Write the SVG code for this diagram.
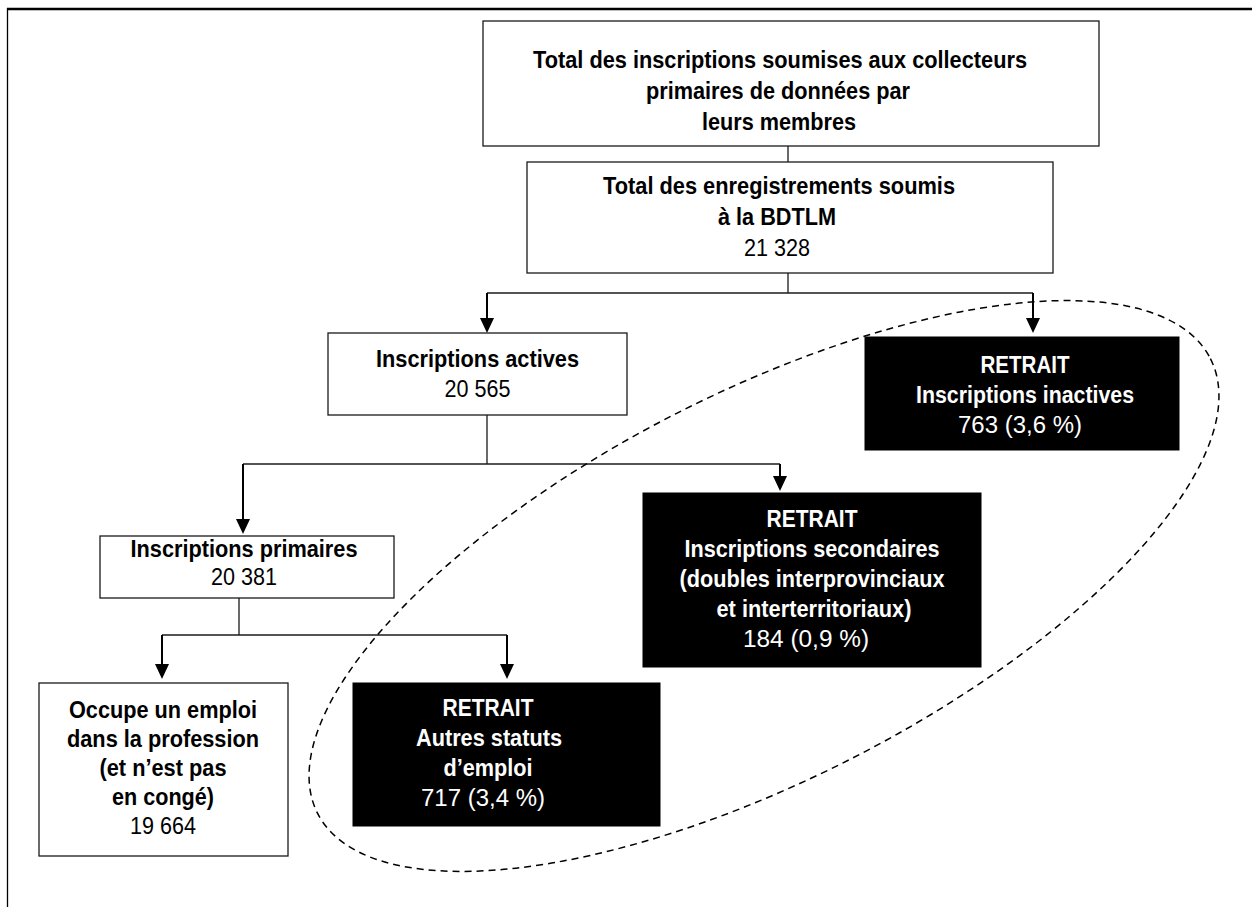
<svg xmlns="http://www.w3.org/2000/svg" width="1252" height="907" viewBox="0 0 1252 907">
<defs>
<style>
.box{fill:#fff;stroke:#1a1a1a;stroke-width:1.3}
.ret{fill:#000;stroke:#000;stroke-width:1}
text{font-family:"Liberation Sans",Arial,sans-serif;font-size:23.5px;text-anchor:middle;fill:#000}
.b{font-weight:bold}
.w{fill:#fff}
.ln{fill:none;stroke:#1a1a1a;stroke-width:1.3}
.sh{fill:none;stroke:#000;stroke-width:2}
.hd{fill:#000}
</style>
</defs>
<rect width="1252" height="907" fill="#fff"/>
<g id="frame">
<line x1="7" y1="9" x2="1252" y2="9" stroke="#000" stroke-width="2.5"/>
<line x1="7.5" y1="8" x2="7.5" y2="907" stroke="#000" stroke-width="1.3"/>
</g>
<g id="connectors">
<line class="ln" x1="788" y1="146" x2="788" y2="162"/>
<line class="ln" x1="788" y1="273" x2="788" y2="293"/>
<line class="ln" x1="487" y1="293" x2="1033" y2="293"/>
<line class="sh" x1="487" y1="293" x2="487" y2="320"/>
<polygon class="hd" points="480,318 494,318 487,333"/>
<line class="sh" x1="1033" y1="293" x2="1033" y2="320"/>
<polygon class="hd" points="1026,318 1040,318 1033,333"/>
<line class="ln" x1="487" y1="415" x2="487" y2="464"/>
<line class="ln" x1="243" y1="464" x2="780" y2="464"/>
<line class="sh" x1="243" y1="464" x2="243" y2="521"/>
<polygon class="hd" points="236,519 250,519 243,534"/>
<line class="sh" x1="780" y1="464" x2="780" y2="478"/>
<polygon class="hd" points="773,476 787,476 780,491"/>
<line class="ln" x1="239" y1="598" x2="239" y2="635"/>
<line class="ln" x1="162" y1="635" x2="507" y2="635"/>
<line class="sh" x1="162" y1="635" x2="162" y2="666"/>
<polygon class="hd" points="155,664 169,664 162,679"/>
<line class="sh" x1="507" y1="635" x2="507" y2="666"/>
<polygon class="hd" points="500,664 514,664 507,679"/>
</g>
<g id="n1">
<rect class="box" x="483" y="21" width="616" height="125"/>
<text class="b" x="780" y="68" textLength="494" lengthAdjust="spacingAndGlyphs">Total des inscriptions soumises aux collecteurs</text>
<text class="b" x="778" y="99" textLength="264" lengthAdjust="spacingAndGlyphs">primaires de données par</text>
<text class="b" x="779" y="130" textLength="154" lengthAdjust="spacingAndGlyphs">leurs membres</text>
</g>
<g id="n2">
<rect class="box" x="527" y="162" width="526" height="111"/>
<text class="b" x="779" y="194" textLength="352" lengthAdjust="spacingAndGlyphs">Total des enregistrements soumis</text>
<text class="b" x="777" y="225" textLength="118" lengthAdjust="spacingAndGlyphs">à la BDTLM</text>
<text x="777" y="256" textLength="66" lengthAdjust="spacingAndGlyphs">21 328</text>
</g>
<g id="n3">
<rect class="box" x="328" y="333" width="299" height="82"/>
<text class="b" x="477.5" y="367" textLength="203" lengthAdjust="spacingAndGlyphs">Inscriptions actives</text>
<text x="477.5" y="397" textLength="66" lengthAdjust="spacingAndGlyphs">20 565</text>
</g>
<g id="n4">
<rect class="ret" x="865" y="337" width="314" height="113"/>
<text class="b w" x="1025" y="373" textLength="89" lengthAdjust="spacingAndGlyphs">RETRAIT</text>
<text class="b w" x="1025" y="403" textLength="218" lengthAdjust="spacingAndGlyphs">Inscriptions inactives</text>
<text class="w" x="1020" y="433" textLength="124" lengthAdjust="spacingAndGlyphs">763 (3,6 %)</text>
</g>
<g id="n5">
<rect class="ret" x="643" y="493" width="338" height="174"/>
<text class="b w" x="812" y="527" textLength="91" lengthAdjust="spacingAndGlyphs">RETRAIT</text>
<text class="b w" x="812" y="557" textLength="255" lengthAdjust="spacingAndGlyphs">Inscriptions secondaires</text>
<text class="b w" x="812" y="587" textLength="265" lengthAdjust="spacingAndGlyphs">(doubles interprovinciaux</text>
<text class="b w" x="814" y="617" textLength="195" lengthAdjust="spacingAndGlyphs">et interterritoriaux)</text>
<text class="w" x="806" y="647" textLength="126" lengthAdjust="spacingAndGlyphs">184 (0,9 %)</text>
</g>
<g id="n6">
<rect class="box" x="100" y="536" width="294" height="62"/>
<text class="b" x="244" y="557" textLength="227" lengthAdjust="spacingAndGlyphs">Inscriptions primaires</text>
<text x="244" y="585" textLength="66" lengthAdjust="spacingAndGlyphs">20 381</text>
</g>
<g id="n7">
<rect class="box" x="39" y="683" width="249" height="173"/>
<text class="b" x="163" y="718" textLength="188" lengthAdjust="spacingAndGlyphs">Occupe un emploi</text>
<text class="b" x="163" y="747" textLength="192" lengthAdjust="spacingAndGlyphs">dans la profession</text>
<text class="b" x="163" y="776" textLength="127" lengthAdjust="spacingAndGlyphs">(et n’est pas</text>
<text class="b" x="163" y="805" textLength="102" lengthAdjust="spacingAndGlyphs">en congé)</text>
<text x="163" y="834" textLength="66" lengthAdjust="spacingAndGlyphs">19 664</text>
</g>
<g id="n8">
<rect class="ret" x="353" y="683" width="307" height="143"/>
<text class="b w" x="488" y="716" textLength="91" lengthAdjust="spacingAndGlyphs">RETRAIT</text>
<text class="b w" x="489" y="746" textLength="146" lengthAdjust="spacingAndGlyphs">Autres statuts</text>
<text class="b w" x="488" y="776" textLength="89" lengthAdjust="spacingAndGlyphs">d’emploi</text>
<text class="w" x="483" y="806" textLength="124" lengthAdjust="spacingAndGlyphs">717 (3,4 %)</text>
</g>
<g id="grouping">
<ellipse cx="764" cy="586" rx="501" ry="193.5" transform="rotate(-27 764 586)" fill="none" stroke="#000" stroke-width="1.5" stroke-dasharray="7 5"/>
</g>
</svg>
